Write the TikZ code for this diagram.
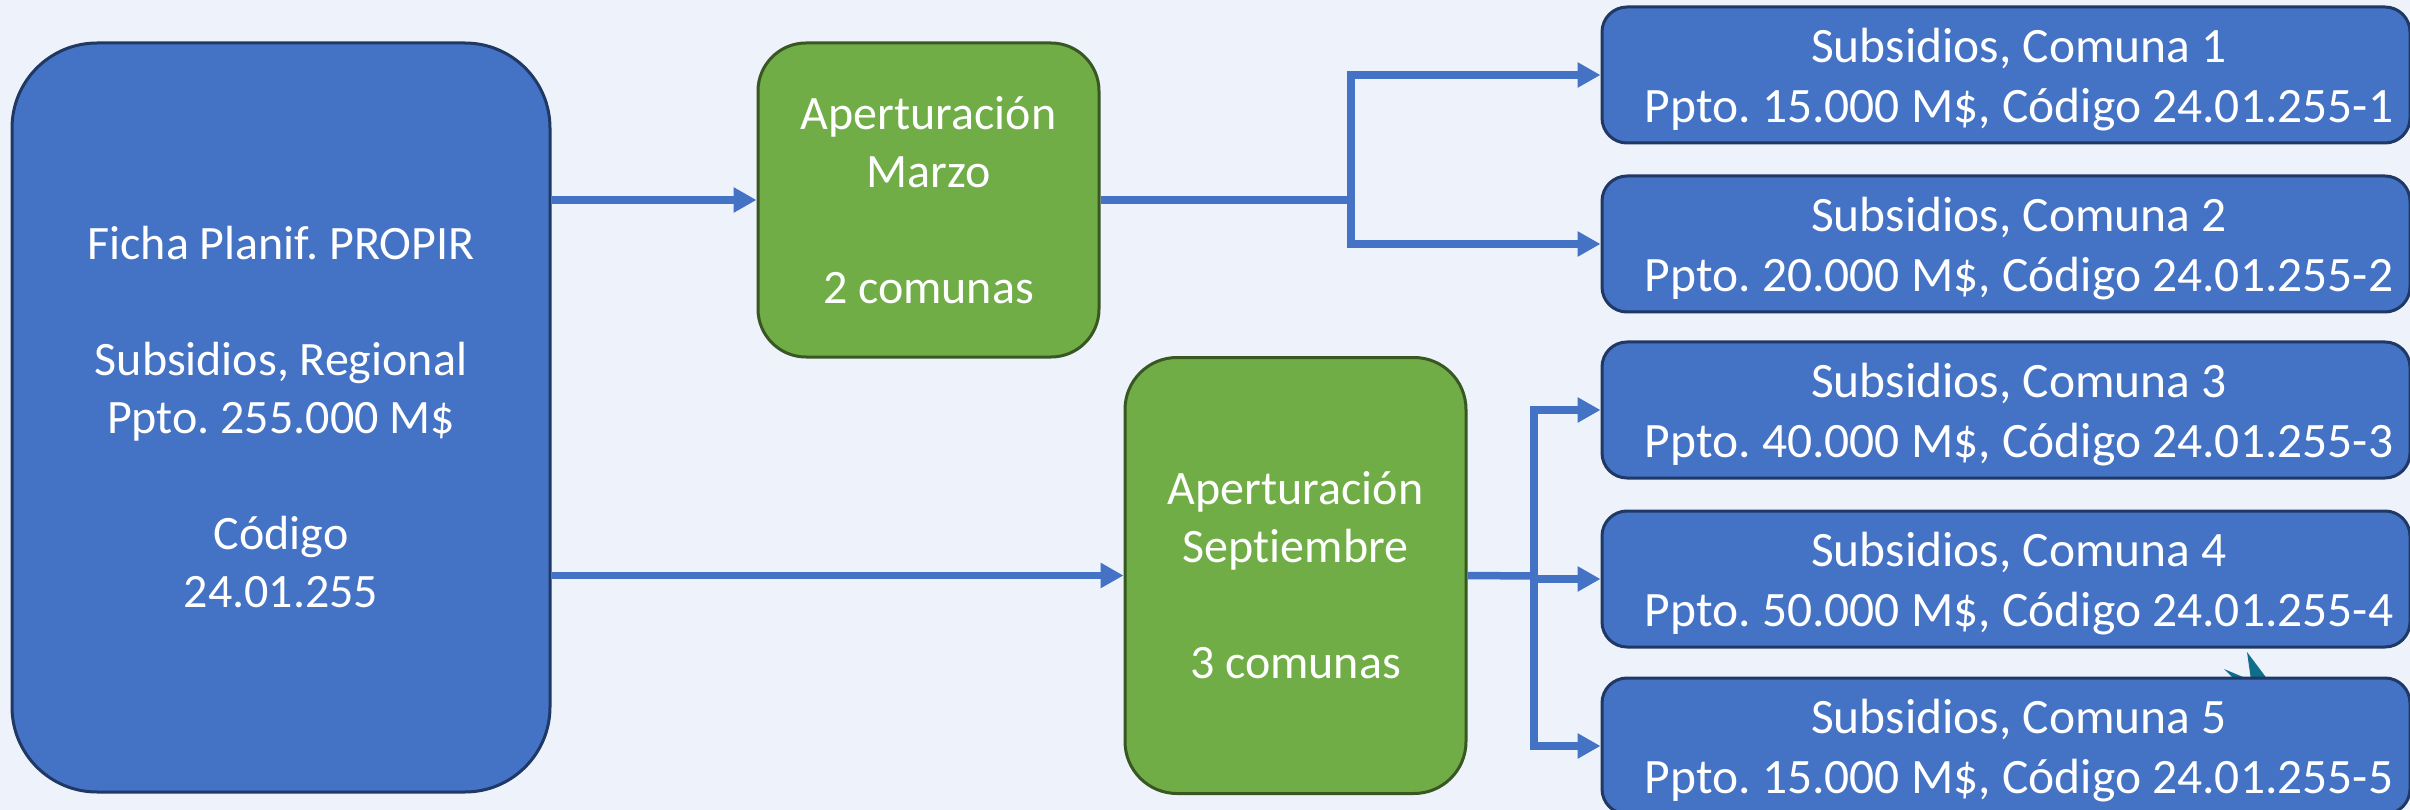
\documentclass[tikz,border=0pt]{standalone}
\usepackage{fontspec}
\setmainfont{Carlito}[Ligatures=NoCommon]
\usetikzlibrary{arrows.meta}
\definecolor{bgc}{HTML}{EEF2FA}
\definecolor{bfill}{HTML}{4472C4}
\definecolor{bdraw}{HTML}{1F3864}
\definecolor{gfill}{HTML}{70AD47}
\definecolor{gdraw}{HTML}{385723}
\definecolor{teal}{HTML}{0F6E8C}
\frenchspacing
\newcommand{\twolines}[2]{\hspace*{26pt}#1\\\hspace*{26pt}#2}
\tikzset{
  boxbase/.style={rectangle, line width=3pt, text=white, align=center, inner sep=0pt,
    font=\fontsize{48}{58}\selectfont},
  bluebox/.style={boxbase, fill=bfill, draw=bdraw},
  greenbox/.style={boxbase, fill=gfill, draw=gdraw},
  comuna/.style={bluebox, minimum width=808, minimum height=136, rounded corners=25,
    font=\fontsize{49.5}{60}\selectfont, text depth=0pt},
  arr/.style={draw=bfill, line width=7.5pt, line join=miter,
    -{Triangle[length=23pt,width=24pt]}},
  seg/.style={draw=bfill, line width=7.5pt, line join=miter}
}
\begin{document}
\begin{tikzpicture}[x=1pt,y=-1pt]
\fill[bgc] (0,0) rectangle (2410,810);
\useasboundingbox (0,0) rectangle (2410,810);

% stray shape between boxes 4 and 5
\fill[teal] (2247,652) -- (2268,680) -- (2251,680) -- cycle;
\fill[teal] (2224,669) -- (2243,677) -- (2236,681) -- cycle;

\node[bluebox, minimum width=538, minimum height=749, rounded corners=85] (L) at (281,417.5)
  {Ficha Planif. PROPIR\\[58pt]Subsidios, Regional\\Ppto. 255.000 M\$\\[58pt]Código\\24.01.255};

\node[greenbox, minimum width=341, minimum height=314, rounded corners=48] (M) at (928.5,200)
  {Aperturación\\Marzo\\[58pt]2 comunas};

\node[greenbox, minimum width=341, minimum height=436, rounded corners=52] (S) at (1295.5,575.5)
  {Aperturación\\Septiembre\\[58pt]3 comunas};

\node[comuna] (B1) at (2006,75) {\twolines{Subsidios, Comuna 1}{Ppto. 15.000 M\$, Código 24.01.255-1}};
\node[comuna] (B2) at (2006,244) {\twolines{Subsidios, Comuna 2}{Ppto. 20.000 M\$, Código 24.01.255-2}};
\node[comuna] (B3) at (2006,410) {\twolines{Subsidios, Comuna 3}{Ppto. 40.000 M\$, Código 24.01.255-3}};
\node[comuna] (B4) at (2006,579) {\twolines{Subsidios, Comuna 4}{Ppto. 50.000 M\$, Código 24.01.255-4}};
\node[comuna] (B5) at (2006,746) {\twolines{Subsidios, Comuna 5}{Ppto. 15.000 M\$, Código 24.01.255-5}};

\coordinate (j1) at (1351,200);
\coordinate (j2) at (1534,576);

\draw[arr] (L.east |- M.west) -- (M.west);
\draw[arr] (L.east |- S.west) -- (S.west);

\draw[seg] (M.east) -- (j1);
\draw[arr] (j1) |- (B1.west);
\draw[arr] (j1) |- (B2.west);

\draw[seg] (S.east) -- (j2);
\draw[arr] (j2) |- (B3.west);
\draw[arr] (j2) |- (B4.west);
\draw[arr] (j2) |- (B5.west);
\end{tikzpicture}
\end{document}
